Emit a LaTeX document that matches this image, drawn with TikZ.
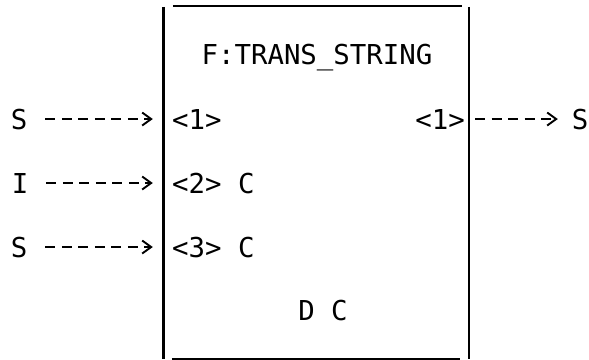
\documentclass[tikz,border=0pt]{standalone}
\usepackage{fontspec}
\setmonofont{DejaVu Sans Mono}
\usepackage{tikz}
\usetikzlibrary{arrows.meta}
\tikzset{
  every picture/.style={line join=round, >=Stealth},
  txt/.style={font=\ttfamily\fontsize{27.4pt}{30pt}\selectfont, inner sep=0pt},
  side/.style={line width=2.4pt},
  rim/.style={line width=1.8pt},
  flow/.style={line width=1.9pt, dash pattern=on 10pt off 6.5pt, -{Straight Barb[length=9pt,width=13pt]}},
  box/.style={minimum width=305.5pt, minimum height=352pt, inner sep=0pt},
}

\begin{document}
\begin{tikzpicture}[x=1pt,y=-1pt]
\useasboundingbox (0,0) rectangle (589,359);
\node[box] (fn) at (316.25,182.5) {};
\draw[side] ([yshift=-0.5pt]fn.north west)--([yshift=-0.5pt]fn.south west);
\draw[side] ([yshift=-0.5pt]fn.north east)--([yshift=-0.5pt]fn.south east);
\draw[rim] ([xshift=9.5pt]fn.north west)--([xshift=-7pt]fn.north east);
\draw[rim] ([xshift=8.5pt]fn.south west)--([xshift=-9pt]fn.south east);
\node[txt,anchor=base] (title) at (317,64) {F:TRANS\_STRING};
\node[txt,anchor=base] (sA) at (19,129) {S};
\node[txt,anchor=base] (iB) at (20,193) {I};
\node[txt,anchor=base] (sC) at (19,257) {S};
\node[txt,anchor=base] (sOut) at (580,129) {S};
\node[txt,anchor=base west] (p1) at (172,129) {<1>};
\node[txt,anchor=base west] (p2) at (172,193) {<2> C};
\node[txt,anchor=base west] (p3) at (172,257) {<3> C};
\node[txt,anchor=base] (q1) at (440,129) {<1>};
\node[txt,anchor=base] (dc) at (323,320) {D C};
\coordinate (in1) at (sA -| fn.west);
\coordinate (in2) at (iB -| fn.west);
\coordinate (in3) at (sC -| fn.west);
\coordinate (out1) at (sOut -| fn.east);
\draw[flow, shorten <=18pt, shorten >=10.5pt] (sA) -- (in1);
\draw[flow, shorten <=18pt, shorten >=10.5pt] (iB) -- (in2);
\draw[flow, shorten <=18pt, shorten >=10.5pt] (sC) -- (in3);
\draw[flow, shorten <=6pt, shorten >=13.75pt] (out1) -- (sOut);
\end{tikzpicture}
\end{document}
